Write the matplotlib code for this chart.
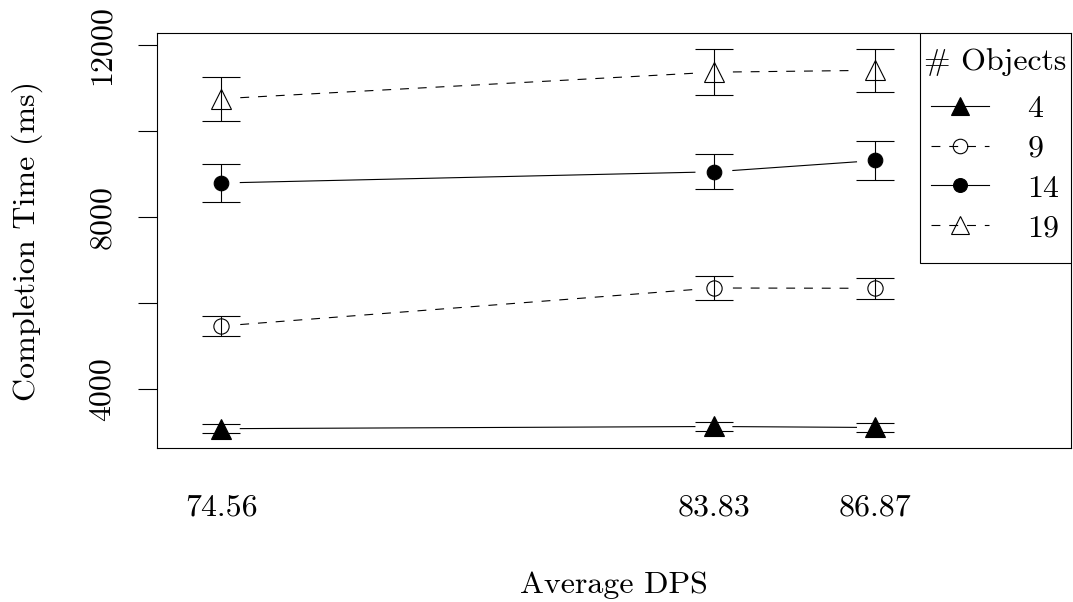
import numpy as np
import matplotlib
matplotlib.use('Agg')
import matplotlib.pyplot as plt
from matplotlib.lines import Line2D
from matplotlib.patches import Rectangle

# data
dps = [74.56, 83.83, 86.87]
objects = ['4', '9', '14', '19']
times = {
    '4': [3077, 3128, 3105],
    '9': [5465, 6349, 6342],
    '14': [8791, 9051, 9314],
    '19': [10751, 11368, 11412],
}
errs = {
    '4': [108, 116, 116],
    '9': [233, 286, 248],
    '14': [449, 407, 447],
    '19': [512, 531, 503],
}

markers = {'4': '^', '9': 'o', '14': 'o', '19': '^'}
filled = {'4': True, '9': False, '14': True, '19': False}
msizes = {'4': 14, '9': 11, '14': 10.5, '19': 14}
dashed = (0, (8, 8))
styles = {'4': '-', '9': dashed, '14': '-', '19': dashed}

plt.rcParams['font.family'] = 'cmr10'
plt.rcParams['mathtext.fontset'] = 'cm'
plt.rcParams['font.size'] = 23

fig = plt.figure(figsize=(10.73, 6.02), dpi=100)
ax = fig.add_axes([157 / 1073, 1 - 448 / 602, 914 / 1073, 415 / 602])
ax.set_xlim(73.35, 90.55)
ax.set_ylim(2628, 12279)

gap = 19  # pixels, like R's type="b"
for k in objects:
    ax.errorbar(dps, times[k], yerr=errs[k], fmt='none', ecolor='black',
                elinewidth=0.8, capsize=13.5, capthick=0.8)
    ax.plot(dps, times[k], linestyle='none', marker=markers[k], ms=msizes[k],
            mec='black', mfc='black' if filled[k] else 'none', mew=0.8)
    # lines between points with gaps
    pts = ax.transData.transform(np.column_stack([dps, times[k]]))
    segx, segy = [], []
    for i in range(len(pts) - 1):
        p0, p1 = pts[i], pts[i + 1]
        d = (p1 - p0) / np.hypot(*(p1 - p0))
        a = ax.transData.inverted().transform(p0 + d * gap)
        b = ax.transData.inverted().transform(p1 - d * gap)
        segx += [a[0], b[0], np.nan]
        segy += [a[1], b[1], np.nan]
    ax.plot(segx, segy, color='black', lw=0.8, linestyle=styles[k])

ax.set_xticks(dps)
ax.set_xticklabels(['74.56', '83.83', '86.87'])
ax.tick_params(axis='x', length=0, pad=33)
ax.set_yticks([4000, 6000, 8000, 10000, 12000])
ax.set_yticklabels(['4000', '', '8000', '', '12000'], rotation=90, va='center')
ax.tick_params(axis='y', length=13.7, width=0.8, pad=16)

for s in ax.spines.values():
    s.set_linewidth(0.8)

ax.set_xlabel('Average DPS')
ax.xaxis.set_label_coords(0.5, (448 - 585) / 415)
ax.xaxis.label.set_verticalalignment('center')
ax.set_ylabel('Completion Time (ms)')
ax.yaxis.set_label_coords((27 - 157) / 914, 0.5)
ax.yaxis.label.set_verticalalignment('center')

handles = [Line2D([], [], color='black', lw=0.8, linestyle=styles[k],
                  marker=markers[k], ms=msizes[k] * 0.95, mec='black',
                  mfc='black' if filled[k] else 'none', mew=0.8)
           for k in objects]
leg = ax.legend(handles, objects, title='# Objects', loc='upper right',
                bbox_to_anchor=(1, 1 - 11 / 415), borderaxespad=0,
                frameon=False, handlelength=1.8,
                handletextpad=1.2, labelspacing=0.36, borderpad=0.14,
                fontsize=23, title_fontsize=23)
leg._legend_box.sep = 13

# legend frame, taller than the legend contents (like R's legend box)
fig.canvas.draw()
bb = leg.get_window_extent()
axbb = ax.get_window_extent()
frame = Rectangle((bb.x0, bb.y0 - 16), axbb.x1 - bb.x0, axbb.y1 - bb.y0 + 16,
                  transform=None, facecolor='white', edgecolor='black',
                  lw=0.8, zorder=4.5)
ax.add_artist(frame)

fig.savefig('out.png', dpi=100)
